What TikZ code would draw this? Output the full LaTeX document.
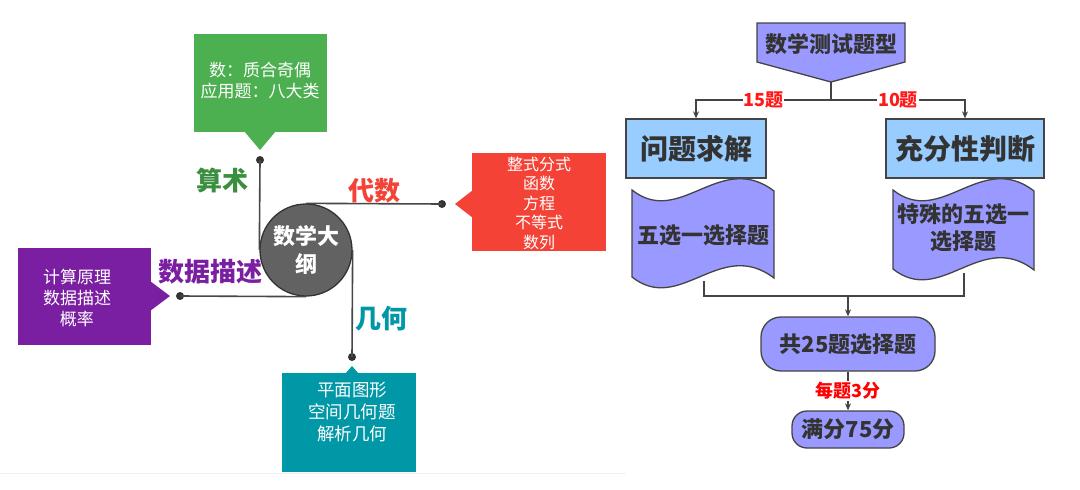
\documentclass[tikz,border=0pt]{standalone}
\usepackage{fontspec}
\setmainfont{Noto Sans CJK SC}
\usetikzlibrary{arrows.meta}

\definecolor{armgreen}{HTML}{4CAF50}
\definecolor{armgreendark}{HTML}{3A8F3E}
\definecolor{armred}{HTML}{F44336}
\definecolor{armpurple}{HTML}{7B1FA2}
\definecolor{armteal}{HTML}{0097A7}
\definecolor{hubgray}{HTML}{626262}
\definecolor{flowblue}{HTML}{9999FF}
\definecolor{flowsky}{HTML}{99CCFF}
\definecolor{flowline}{HTML}{444444}

\begin{document}
\begin{tikzpicture}[x=1pt,y=-1pt,
  boxtext/.style={text=white,align=center,font=\fontsize{17}{21}\selectfont},
  branch/.style={font=\bfseries\fontsize{26}{26}\selectfont},
  knot/.style={circle,fill=black!80,inner sep=0pt,minimum size=8pt},
  stem/.style={draw=black!72,line width=1.6pt},
  flow/.style={draw=flowline,line width=1.3pt},
  flowtext/.style={text=black!80,align=center,font=\bfseries\fontsize{22}{27}\selectfont},
  count/.style={fill=white,text=red!90!white,inner sep=1pt,font=\bfseries\fontsize{18}{18}\selectfont},
  tip/.style={-{Stealth[length=7pt,width=6pt]}}]
\useasboundingbox[fill=white] (0,0) rectangle (1080,490);

% faint edge of the screenshot
\draw[black!5] (0,473) -- (626,473);

% Mind map: hub
\node[circle,fill=hubgray,draw=black!80,line width=1.3pt,minimum size=92pt,inner sep=0pt,
  text=white,align=center,font=\bfseries\fontsize{22}{28}\selectfont] (hub) at (306,250) {数学大\\纲};

% Arithmetic
\fill[armgreen] (194,34) rectangle (327,132);
\fill[armgreen] (244,131) -- (260,150) -- (276,131) -- cycle;
\node[boxtext] (arith) at (260,81) {数：质合奇偶\\应用题：八大类};
\node[knot] (sdot) at (260,160) {};
\node[branch,text=armgreendark] (arithlbl) at (222,181) {算术};
\draw[stem] (sdot.center) -- (hub.west);

% Algebra
\fill[armred] (472,153) rectangle (606,251);
\fill[armred] (473,190) -- (455,204) -- (473,218) -- cycle;
\node[boxtext,font=\fontsize{16}{19.5}\selectfont] (alg) at (539,203) {整式分式\\函数\\方程\\不等式\\数列};
\node[knot] (adot) at (442,204) {};
\node[branch,text=armred] (alglbl) at (374,191) {代数};
\draw[stem] (hub.north) -- (adot.center);

% Statistics
\fill[armpurple] (18,248) rectangle (151,345);
\fill[armpurple] (150,281) -- (170,296) -- (150,311) -- cycle;
\node[boxtext] (stat) at (77,298) {计算原理\\数据描述\\概率};
\node[knot] (ddot) at (180,296) {};
\node[branch,text=armpurple] (statlbl) at (210,272) {数据描述};
\draw[stem] (ddot.center) -- (hub.south);

% Geometry
\fill[armteal] (282,373) rectangle (416,472);
\fill[armteal] (345,374) -- (352,366) -- (359,374) -- cycle;
\node[boxtext,font=\fontsize{17.5}{22}\selectfont] (geo) at (352,412) {平面图形\\空间几何题\\解析几何};
\node[knot] (gdot) at (352,357) {};
\node[branch,text=armteal] (geolbl) at (381,319) {几何};
\draw[stem] (hub.east) -- (gdot.center);

% Flow chart: title
\filldraw[fill=flowblue,flow] (757,23) -- (905,23) -- (905,62) -- (831,82) -- (757,62) -- cycle;
\node[flowtext] (title) at (831,44) {数学测试题型};
\coordinate (toptip) at (831,82);
\coordinate (split) at (831,100);

% two question kinds
\node[flow,fill=flowsky,minimum width=140pt,minimum height=59pt,flowtext,font=\bfseries\fontsize{28}{28}\selectfont] (solve) at (696,148.5) {问题求解};
\node[flow,fill=flowsky,minimum width=158pt,minimum height=59pt,flowtext,font=\bfseries\fontsize{28}{28}\selectfont] (suff) at (965,148.5) {充分性判断};
\draw[flow] (toptip) -- (split);
\draw[flow,tip] (split) -| node[pos=0.25,count] {15题} (solve.north);
\draw[flow,tip] (split) -| node[pos=0.25,count] {10题} (suff.north);

% tapes
\filldraw[fill=flowblue,flow] (632,190) .. controls (680,228) and (720,150) .. (774,191)
  -- (774,278) .. controls (720,237) and (680,315) .. (632,277) -- cycle;
\node[flowtext] (tape1) at (703,235) {五选一选择题};
\filldraw[fill=flowblue,flow] (893,190) .. controls (941,228) and (981,150) .. (1034,191)
  -- (1034,270) .. controls (981,229) and (941,307) .. (893,269) -- cycle;
\node[flowtext] (tape2) at (963,228) {特殊的五选一\\选择题};
\coordinate (tape1end) at (704,281);
\coordinate (tape2end) at (964,273);
\coordinate (merge) at (848,296);

% total
\node[flow,fill=flowblue,rounded corners=20pt,minimum width=174pt,minimum height=54pt,flowtext] (total) at (848,344) {共25题选择题};
\node[flow,fill=flowblue,rounded corners=15pt,minimum width=112pt,minimum height=37pt,flowtext] (score) at (848,429.5) {满分75分};
\draw[flow] (tape1end) |- (merge);
\draw[flow] (tape2end) |- (merge);
\draw[flow,tip] (merge) -- (total.north);
\draw[flow,tip] (total.south) -- node[count,text=red] {每题3分} (score.north);
\end{tikzpicture}
\end{document}
